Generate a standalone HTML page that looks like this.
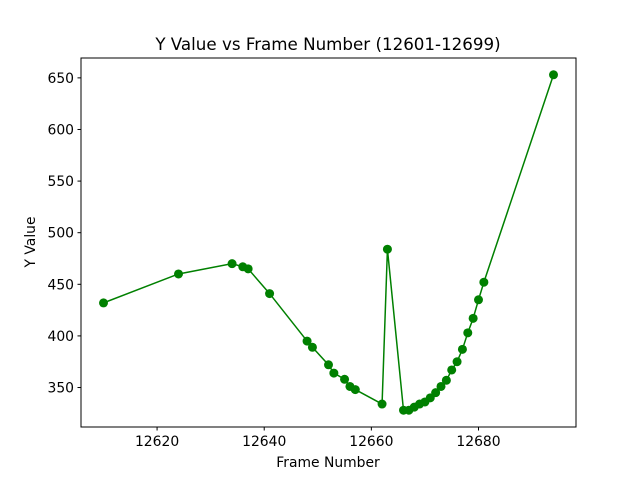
<!DOCTYPE html>
<html><head><meta charset="utf-8"><style>
body{margin:0;background:#fff;font-family:"Liberation Sans","DejaVu Sans",sans-serif}
svg text{font-family:"DejaVu Sans","Liberation Sans",sans-serif}
</style></head><body>
<svg id="chart" width="640" height="480" xmlns="http://www.w3.org/2000/svg">
<rect width="640" height="480" fill="#fff"/>
<text x="328" y="50" font-size="16.7" text-anchor="middle">Y Value vs Frame Number (12601-12699)</text>
<g id="plot"></g>
<rect x="81" y="58" width="495" height="369" fill="none" stroke="#000" stroke-width="1"/>
<text x="328" y="467" font-size="13.9" text-anchor="middle">Frame Number</text>
<text transform="translate(35,242) rotate(-90)" font-size="13.9" text-anchor="middle">Y Value</text>
</svg>
<script>
const frames=[12610,12624,12634,12636,12637,12641,12648,12649,12652,12653,12655,12656,12657,12662,12663,12666,12667,12668,12669,12670,12671,12672,12673,12674,12675,12676,12677,12678,12679,12680,12681,12694];
const yValues=[432,460,470,467,465,441,395,389,372,364,358,351,348,334,484,328,328,331,334,336,340,345,351,357,367,375,387,403,417,435,452,653];
const xTicks=[12620,12640,12660,12680];
const yTicks=[350,400,450,500,550,600,650];
const L=81,R=576,T=58,B=427;
const xmin=Math.min(...frames),xmax=Math.max(...frames),ymin=Math.min(...yValues),ymax=Math.max(...yValues);
const xm=(xmax-xmin)*0.05,ym=(ymax-ymin)*0.05;
const X=v=>L+(v-(xmin-xm))/((xmax+xm)-(xmin-xm))*(R-L);
const Y=v=>B-(v-(ymin-ym))/((ymax+ym)-(ymin-ym))*(B-T);
const NS="http://www.w3.org/2000/svg",g=document.getElementById('plot');
function mk(t,a){const e=document.createElementNS(NS,t);for(const k in a)e.setAttribute(k,a[k]);g.appendChild(e);return e;}
xTicks.forEach(v=>{
 const l=mk('line',{x1:X(v),x2:X(v),y1:B,y2:B+3.5,stroke:'#000'});
 
 
 const t=mk('text',{x:X(v),y:B+19,'font-size':13.9,'text-anchor':'middle'});t.textContent=v;
 
 
});
yTicks.forEach(v=>{
 const l=mk('line',{x1:L-3.5,x2:L,y1:Y(v),y2:Y(v),stroke:'#000'});
 
 
 const t=mk('text',{x:L-7,y:Y(v)+5,'font-size':13.9,'text-anchor':'end'});t.textContent=v;
 
 
});
const p=mk('polyline',{points:frames.map((f,i)=>X(f)+','+Y(yValues[i])).join(' '),fill:'none',stroke:'#008000','stroke-width':1.5});


frames.forEach((f,i)=>{
 const c=mk('circle',{cx:X(f),cy:Y(yValues[i]),r:4.5,fill:'#008000'});
 
 
});
</script>
</body></html>
